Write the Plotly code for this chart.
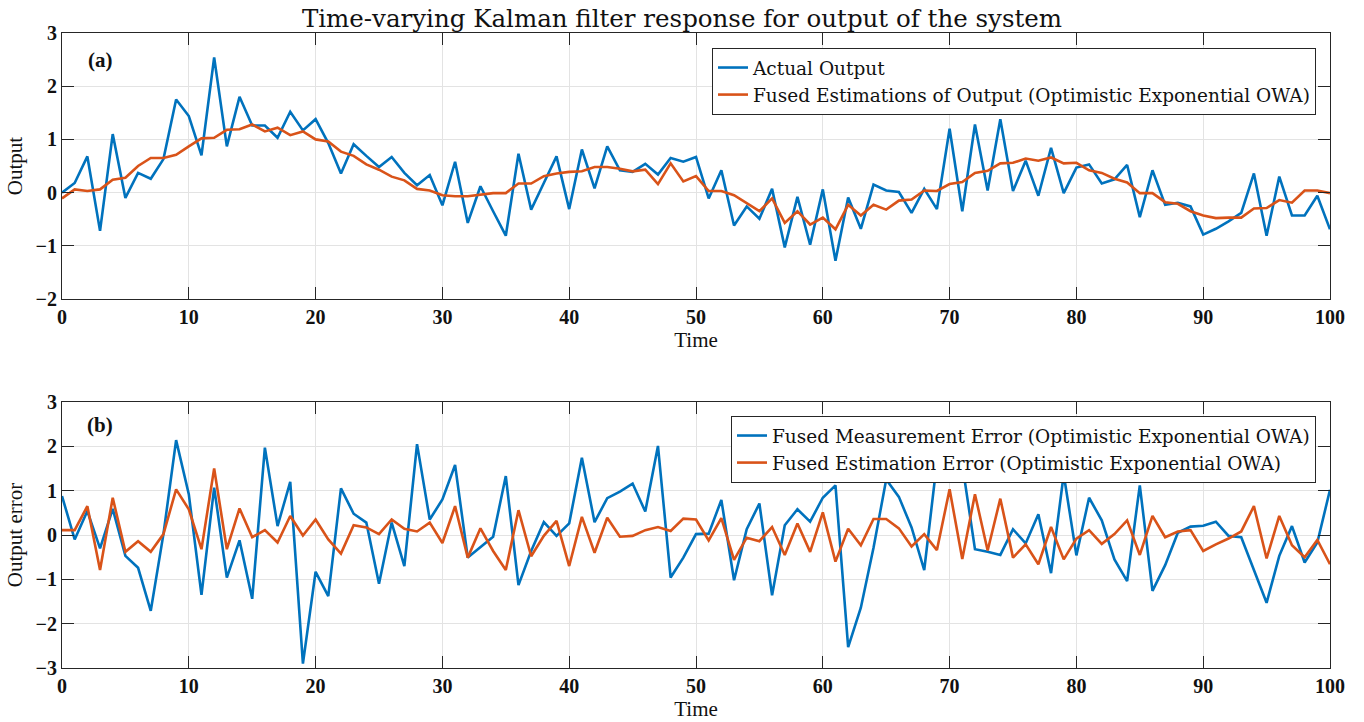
import plotly.graph_objects as go

time = list(range(101))

actual_output = [
    0.00, 0.18, 0.68, -0.72, 1.10, -0.10, 0.37, 0.26, 0.63, 1.75,
    1.44, 0.70, 2.54, 0.87, 1.80, 1.26, 1.26, 1.03, 1.52, 1.17,
    1.38, 0.93, 0.36, 0.91, 0.69, 0.48, 0.67, 0.37, 0.14, 0.33,
    -0.24, 0.58, -0.57, 0.12, -0.35, -0.81, 0.73, -0.32, 0.18, 0.68,
    -0.31, 0.81, 0.08, 0.87, 0.42, 0.39, 0.54, 0.34, 0.65, 0.58,
    0.67, -0.11, 0.42, -0.62, -0.26, -0.49, 0.07, -1.03, -0.08, -0.98,
    0.06, -1.28, -0.09, -0.68, 0.15, 0.04, 0.01, -0.38, 0.07, -0.31,
    1.20, -0.35, 1.28, 0.04, 1.38, 0.03, 0.60, -0.06, 0.84, -0.01,
    0.47, 0.53, 0.17, 0.25, 0.52, -0.46, 0.42, -0.23, -0.19, -0.26,
    -0.79, -0.68, -0.54, -0.38, 0.36, -0.81, 0.30, -0.43, -0.43, -0.06,
    -0.69,
]

fused_estimate = [
    -0.11, 0.06, 0.03, 0.06, 0.24, 0.28, 0.50, 0.65, 0.65, 0.71,
    0.87, 1.02, 1.03, 1.18, 1.19, 1.28, 1.15, 1.22, 1.08, 1.15,
    1.00, 0.96, 0.77, 0.69, 0.53, 0.43, 0.30, 0.23, 0.07, 0.04,
    -0.05, -0.07, -0.07, -0.04, -0.01, -0.01, 0.17, 0.17, 0.31, 0.36,
    0.39, 0.40, 0.48, 0.48, 0.45, 0.40, 0.43, 0.16, 0.55, 0.21,
    0.31, 0.03, 0.03, -0.05, -0.20, -0.35, -0.11, -0.57, -0.35, -0.60,
    -0.47, -0.69, -0.23, -0.43, -0.23, -0.32, -0.15, -0.13, 0.04, 0.03,
    0.16, 0.20, 0.37, 0.41, 0.55, 0.56, 0.64, 0.60, 0.66, 0.55,
    0.56, 0.42, 0.37, 0.26, 0.19, -0.01, -0.01, -0.18, -0.21, -0.35,
    -0.43, -0.48, -0.47, -0.47, -0.30, -0.29, -0.14, -0.19, 0.04, 0.04,
    -0.01,
]

measurement_error = [
    0.88, -0.10, 0.54, -0.30, 0.59, -0.47, -0.74, -1.71, 0.02, 2.14,
    0.92, -1.35, 1.07, -0.96, -0.12, -1.44, 1.97, 0.20, 1.20, -2.90,
    -0.83, -1.38, 1.05, 0.48, 0.28, -1.10, 0.28, -0.70, 2.05, 0.35,
    0.80, 1.58, -0.51, -0.27, -0.04, 1.33, -1.13, -0.36, 0.29, -0.02,
    0.26, 1.74, 0.29, 0.83, 0.98, 1.16, 0.53, 2.01, -0.96, -0.51,
    0.02, 0.03, 0.79, -1.02, 0.13, 0.71, -1.36, 0.22, 0.58, 0.30,
    0.84, 1.12, -2.53, -1.64, -0.29, 1.25, 0.86, 0.17, -0.79, 1.65,
    2.20, 1.60, -0.32, -0.38, -0.45, 0.13, -0.19, 0.47, -0.86, 1.37,
    -0.46, 0.84, 0.33, -0.55, -1.04, 1.12, -1.26, -0.68, 0.05, 0.19,
    0.21, 0.30, -0.02, -0.05, -0.79, -1.53, -0.47, 0.20, -0.62, -0.17,
    1.02,
]

estimation_error = [
    0.11, 0.11, 0.65, -0.79, 0.84, -0.38, -0.14, -0.38, 0.02, 1.03,
    0.58, -0.32, 1.50, -0.32, 0.60, -0.05, 0.11, -0.17, 0.43, -0.01,
    0.35, -0.10, -0.42, 0.22, 0.17, 0.02, 0.35, 0.14, 0.08, 0.28,
    -0.18, 0.65, -0.51, 0.15, -0.36, -0.79, 0.56, -0.48, -0.02, 0.32,
    -0.70, 0.41, -0.40, 0.39, -0.04, -0.02, 0.11, 0.18, 0.09, 0.37,
    0.35, -0.12, 0.38, -0.56, -0.06, -0.14, 0.18, -0.45, 0.26, -0.38,
    0.51, -0.60, 0.14, -0.23, 0.36, 0.36, 0.15, -0.26, 0.02, -0.34,
    1.03, -0.54, 0.92, -0.35, 0.82, -0.51, -0.21, -0.66, 0.18, -0.55,
    -0.08, 0.11, -0.20, 0.02, 0.33, -0.45, 0.43, -0.05, 0.08, 0.11,
    -0.36, -0.21, -0.08, 0.08, 0.65, -0.53, 0.43, -0.23, -0.50, -0.11,
    -0.66,
]

x_ticks = [0, 10, 20, 30, 40, 50, 60, 70, 80, 90, 100]
y_ticks_a = [-2, -1, 0, 1, 2, 3]
y_ticks_b = [-3, -2, -1, 0, 1, 2, 3]

BLUE = "#0072BD"
ORANGE = "#D95319"
SERIF = "Liberation Serif"
WIDE_SERIF = "DejaVu Serif"
AXC = "#262626"
GRID = "#e3e3e3"
TXT = "#111111"

fig = go.Figure()
fig.add_trace(go.Scatter(x=time, y=actual_output, mode="lines", name="Actual Output",
                         line=dict(color=BLUE, width=2.6), xaxis="x", yaxis="y", legend="legend"))
fig.add_trace(go.Scatter(x=time, y=fused_estimate, mode="lines",
                         name="Fused Estimations of Output (Optimistic Exponential OWA)",
                         line=dict(color=ORANGE, width=2.6), xaxis="x", yaxis="y", legend="legend"))
fig.add_trace(go.Scatter(x=time, y=measurement_error, mode="lines",
                         name="Fused Measurement Error (Optimistic Exponential OWA)",
                         line=dict(color=BLUE, width=2.6), xaxis="x2", yaxis="y2", legend="legend2"))
fig.add_trace(go.Scatter(x=time, y=estimation_error, mode="lines",
                         name="Fused Estimation Error (Optimistic Exponential OWA)",
                         line=dict(color=ORANGE, width=2.6), xaxis="x2", yaxis="y2", legend="legend2"))

tickfont = dict(family=SERIF, size=20, color=TXT, weight="bold")
titlefont = dict(family=SERIF, size=21, color=TXT)

def xaxis(anchor):
    return dict(domain=[0, 1], anchor=anchor, range=[0, 100], tickvals=x_ticks,
                ticks="inside", ticklen=12, tickcolor=AXC, showline=True, linecolor=AXC,
                linewidth=1, mirror="ticks", showgrid=True, gridcolor=GRID, zeroline=False,
                automargin=False,
                tickfont=tickfont, title=dict(text="Time", font=titlefont, standoff=2))

def yaxis(anchor, dom, rng, ticks, title):
    return dict(domain=dom, anchor=anchor, range=rng, tickvals=ticks,
                ticks="inside", ticklen=12, tickcolor=AXC, showline=True, linecolor=AXC,
                linewidth=1, mirror="ticks", showgrid=True, gridcolor=GRID, zeroline=False,
                automargin=False,
                tickfont=tickfont, title=dict(text=title, font=titlefont, standoff=7))

legend_font = dict(family=WIDE_SERIF, size=18.5, color=TXT)

H = 722 - 33 - 54
fig.update_layout(
    width=1364, height=722,
    margin=dict(l=62, r=34, t=33, b=54, autoexpand=False),
    paper_bgcolor="white", plot_bgcolor="white",
    font=dict(family=SERIF, color=TXT),
    title=dict(text="Time-varying Kalman filter response for output of the system",
               x=(682 - 62) / 1268, xref="paper", xanchor="center",
               y=1 - 18 / 722, yanchor="middle",
               font=dict(family=WIDE_SERIF, size=24.5, color=TXT)),
    xaxis=xaxis("y"),
    yaxis=yaxis("x", [(668 - 299) / H, 1.0], [-2, 3], y_ticks_a, "Output"),
    xaxis2=xaxis("y2"),
    yaxis2=yaxis("x2", [0, (668 - 402) / H], [-3, 3], y_ticks_b, "Output error"),
    legend=dict(x=(1316 - 62) / 1268, xanchor="right", y=(668 - 48) / H, yanchor="top",
                bgcolor="white", bordercolor=AXC, borderwidth=1,
                font=legend_font, tracegroupgap=0, itemwidth=30),
    legend2=dict(x=(1316 - 62) / 1268, xanchor="right", y=(668 - 416) / H, yanchor="top",
                 bgcolor="white", bordercolor=AXC, borderwidth=1,
                 font=legend_font, tracegroupgap=0, itemwidth=30),
    showlegend=True,
    annotations=[
        dict(text="<b>(a)</b>", x=0.03, xref="x domain", y=(193 - 60) / 53.2, yref="y",
             showarrow=False, xanchor="center", yanchor="middle",
             font=dict(family=SERIF, size=21, color=TXT)),
        dict(text="<b>(b)</b>", x=0.03, xref="x domain", y=(535 - 425) / 44.3, yref="y2",
             showarrow=False, xanchor="center", yanchor="middle",
             font=dict(family=SERIF, size=21, color=TXT)),
    ],
)

fig.write_html("out.html")
